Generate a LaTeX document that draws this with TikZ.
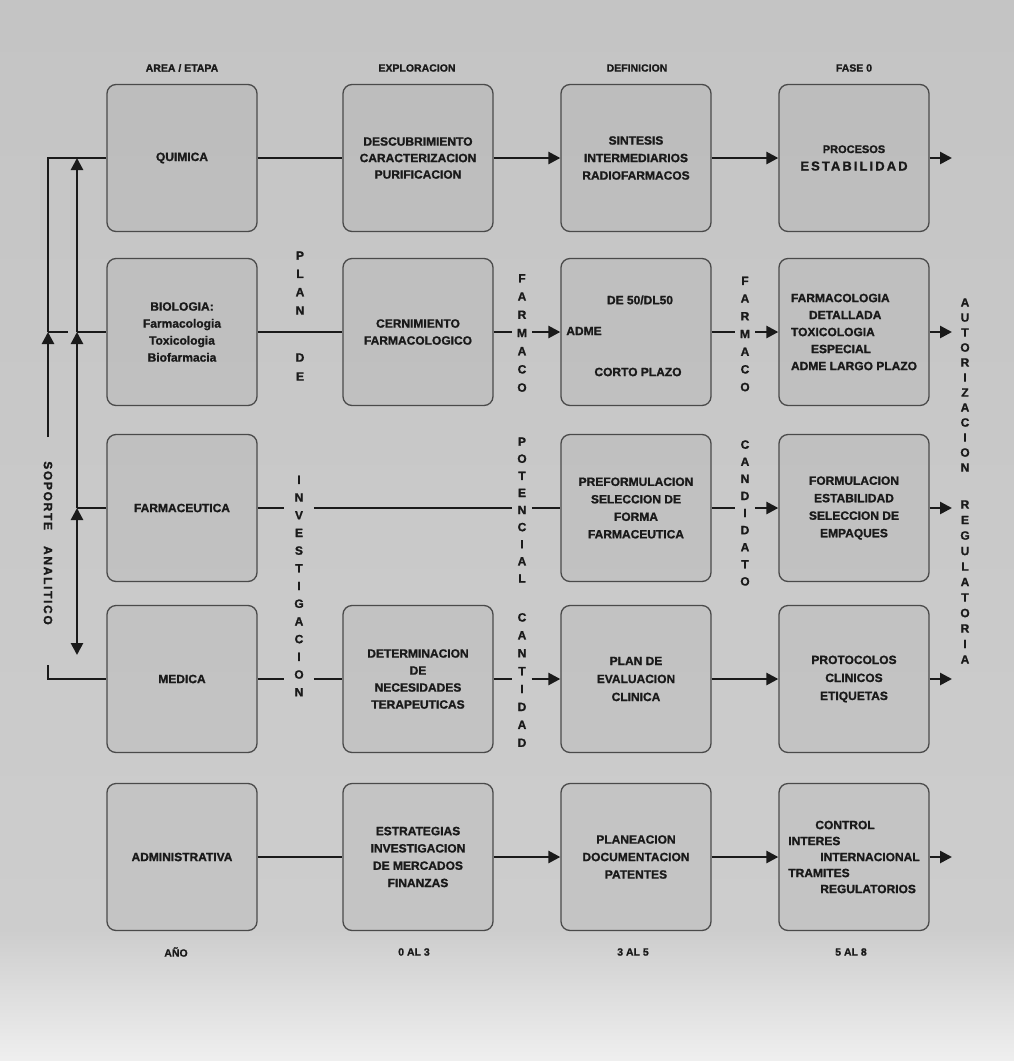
\documentclass[tikz,border=0pt]{standalone}
\usepackage{fontspec}
\setmainfont{Liberation Sans}[BoldFeatures={FakeBold=1.2}]
\newfontfamily\sapfont{Liberation Sans}[LetterSpace=14, BoldFeatures={FakeBold=1.2}]
\usetikzlibrary{arrows.meta}
\definecolor{bgtop}{HTML}{C4C4C4}
\definecolor{bgmid}{HTML}{CDCDCD}
\definecolor{bgbot}{HTML}{EFEFEF}
\definecolor{boxc}{HTML}{4A4A4A}
\definecolor{ink}{HTML}{1A1A1A}
\begin{document}
\begin{tikzpicture}[x=1pt,y=-1pt,
  box/.style={draw=boxc, line width=1.3pt, rounded corners=9pt,
    minimum width=150pt, minimum height=147pt, fill=black, fill opacity=0.04,
    draw opacity=1, text opacity=1, align=center, inner sep=2pt,
    font=\fontsize{12}{17.5}\selectfont\bfseries, text=ink},
  tight/.style={font=\fontsize{12}{16.5}\selectfont\bfseries},
  inbox/.style={font=\fontsize{12}{14}\selectfont\bfseries, text=ink, inner sep=1pt},
  conn/.style={draw=ink, line width=2.6pt},
  arr/.style={-{Triangle[length=12pt,width=12pt]}},
  dtri/.style={{Triangle[length=12pt,width=12pt]}-{Triangle[length=12pt,width=12pt]}},
  vword/.style={font=\fontsize{12}{17.7}\selectfont\bfseries, align=center,
    inner xsep=5pt, inner ysep=0pt, text=ink},
  hdr/.style={font=\fontsize{10.5}{12}\selectfont\bfseries, text=ink}]

% background
\shade[top color=bgtop, bottom color=bgmid] (0,0) rectangle (1014,930);
\shade[top color=bgmid, bottom color=bgbot] (0,930) rectangle (1014,1061);
\useasboundingbox (0,0) rectangle (1014,1061);

% headers
\node[hdr] (h1) at (182,68) {AREA / ETAPA};
\node[hdr] (h2) at (417,68) {EXPLORACION};
\node[hdr] (h3) at (637,68) {DEFINICION};
\node[hdr] (h4) at (854,68) {FASE 0};

% row 1
\node[box] (b11) at (182,158) {QUIMICA};
\node[box, tight] (b12) at (418,158) {DESCUBRIMIENTO\\CARACTERIZACION\\PURIFICACION};
\node[box] (b13) at (636,158) {SINTESIS\\INTERMEDIARIOS\\RADIOFARMACOS};
\node[box] (b14) at (854,158) {{\fontsize{11}{12}\selectfont PROCESOS}\\{\fontsize{13}{14}\selectfont\bfseries\addfontfeature{LetterSpace=16}ESTABILIDAD}};

% row 2
\node[box, font=\fontsize{12}{17}\selectfont\bfseries] (b21) at (182,332) {BIOLOGIA:\\Farmacologia\\Toxicologia\\Biofarmacia};
\node[box, font=\fontsize{12}{17}\selectfont\bfseries] (b22) at (418,332) {CERNIMIENTO\\FARMACOLOGICO};
\node[box] (b23) at (636,332) {};
\node[inbox] (t23a) at (640,300) {DE 50/DL50};
\node[inbox] (t23b) at (584,331) {ADME};
\node[inbox] (t23c) at (638,372) {CORTO PLAZO};
\node[box, align=left, font=\fontsize{12}{17}\selectfont\bfseries] (b24) at (854,332)
  {FARMACOLOGIA\\\hspace*{18pt}DETALLADA\\TOXICOLOGIA\\\hspace*{20pt}ESPECIAL\\ADME LARGO PLAZO};

% row 3
\node[box] (b31) at (182,508) {FARMACEUTICA};
\node[box] (b33) at (636,508) {PREFORMULACION\\SELECCION DE\\FORMA\\FARMACEUTICA};
\node[box] (b34) at (854,508) {FORMULACION\\ESTABILIDAD\\SELECCION DE\\EMPAQUES};

% row 4
\node[box] (b41) at (182,679) {MEDICA};
\node[box, font=\fontsize{12}{17}\selectfont\bfseries] (b42) at (418,679) {DETERMINACION\\DE\\NECESIDADES\\TERAPEUTICAS};
\node[box, font=\fontsize{12}{18}\selectfont\bfseries] (b43) at (636,679) {PLAN DE\\EVALUACION\\CLINICA};
\node[box, font=\fontsize{12}{18}\selectfont\bfseries] (b44) at (854,679) {PROTOCOLOS\\CLINICOS\\ETIQUETAS};

% row 5
\node[box, font=\fontsize{12}{17.3}\selectfont\bfseries] (b51) at (182,857) {ADMINISTRATIVA};
\node[box, font=\fontsize{12}{17.3}\selectfont\bfseries] (b52) at (418,857) {ESTRATEGIAS\\INVESTIGACION\\DE MERCADOS\\FINANZAS};
\node[box] (b53) at (636,857) {PLANEACION\\DOCUMENTACION\\PATENTES};
\node[box, align=left, font=\fontsize{12}{16}\selectfont\bfseries] (b54) at (854,857)
  {\hspace*{27pt}CONTROL\\INTERES\\\hspace*{32pt}INTERNACIONAL\\TRAMITES\\\hspace*{32pt}REGULATORIOS};

% footer
\node[hdr] (g1) at (176,952) {AÑO};
\node[hdr] (g2) at (414,952) {0 AL 3};
\node[hdr] (g3) at (633,952) {3 AL 5};
\node[hdr] (g4) at (851,952) {5 AL 8};

% vertical words
\node[vword, font=\fontsize{12}{18.3}\selectfont\bfseries] (vplan) at (300,283) {P\\L\\A\\N};
\node[vword, font=\fontsize{12}{19}\selectfont\bfseries] (vde) at (300,367) {D\\E};
\node[vword, inner xsep=10pt] (vinv) at (299,586) {I\\N\\V\\E\\S\\T\\I\\G\\A\\C\\I\\O\\N};
\node[vword, font=\fontsize{12}{18.2}\selectfont\bfseries] (vfar1) at (522,333) {F\\A\\R\\M\\A\\C\\O};
\node[vword, font=\fontsize{12}{17.1}\selectfont\bfseries] (vpot) at (522,510) {P\\O\\T\\E\\N\\C\\I\\A\\L};
\node[vword, font=\fontsize{12}{17.9}\selectfont\bfseries] (vcant) at (522,680) {C\\A\\N\\T\\I\\D\\A\\D};
\node[vword] (vfar2) at (745,334) {F\\A\\R\\M\\A\\C\\O};
\node[vword, font=\fontsize{12}{17.1}\selectfont\bfseries] (vcand) at (745,513) {C\\A\\N\\D\\I\\D\\A\\T\\O};
\node[vword, font=\fontsize{12}{15}\selectfont\bfseries] (vaut) at (965,385) {A\\U\\T\\O\\R\\I\\Z\\A\\C\\I\\O\\N};
\node[vword, font=\fontsize{12}{15.5}\selectfont\bfseries] (vreg) at (965,582) {R\\E\\G\\U\\L\\A\\T\\O\\R\\I\\A};

\node[font={\sapfont\fontsize{12}{14}\selectfont\bfseries}, text=ink, rotate=-90] (sop) at (48,543) {SOPORTE\hspace{16pt}ANALITICO};

% helper coordinates
\coordinate (ox) at (952,0);
\coordinate (xo) at (48,0);
\coordinate (xi) at (77,0);
\coordinate (sa1) at (48,437);
\coordinate (sa2) at (48,665);
\coordinate (il4) at (77,655);
\coordinate (stub) at (68,332);

% row 1 connectors
\draw[conn] (b11) -- (b12);
\draw[conn,arr] (b12) -- (b13);
\draw[conn,arr] (b13) -- (b14);
\draw[conn,arr] (b14) -- (b14 -| ox);

% row 2
\draw[conn] (b21) -- (b22);
\draw[conn] (b22) -- (b22 -| vfar1.west);
\draw[conn,arr] (b22 -| vfar1.east) -- (b23);
\draw[conn] (b23) -- (b23 -| vfar2.west);
\draw[conn,arr] (b23 -| vfar2.east) -- (b24);
\draw[conn,arr] (b24) -- (b24 -| ox);

% row 3
\draw[conn] (b31) -- (b31 -| vinv.west);
\draw[conn] (b31 -| vinv.east) -- (b31 -| vpot.west);
\draw[conn] (b31 -| vpot.east) -- (b33);
\draw[conn] (b33) -- (b33 -| vcand.west);
\draw[conn,arr] (b33 -| vcand.east) -- (b34);
\draw[conn,arr] (b34) -- (b34 -| ox);

% row 4
\draw[conn] (b41) -- (b41 -| vinv.west);
\draw[conn] (b41 -| vinv.east) -- (b42);
\draw[conn] (b42) -- (b42 -| vcant.west);
\draw[conn,arr] (b42 -| vcant.east) -- (b43);
\draw[conn,arr] (b43) -- (b44);
\draw[conn,arr] (b44) -- (b44 -| ox);

% row 5
\draw[conn] (b51) -- (b52);
\draw[conn,arr] (b52) -- (b53);
\draw[conn,arr] (b53) -- (b54);
\draw[conn,arr] (b54) -- (b54 -| ox);

% left support structure
\draw[conn,arr] (sa1) -- (b21.west -| xo);
\draw[conn] (b21.west -| xo) -- (b11.west -| xo) -- (b11.west);
\draw[conn] (b21.west -| xo) -- (stub);
\draw[conn] (b21.west -| xi) -- (b21.west);
\draw[conn] (b31.west -| xi) -- (b31.west);
\draw[conn] (sa2) -- (b41.west -| xo) -- (b41.west);
\draw[conn,dtri] (il4) -- (b31.west -| xi);
\draw[conn,arr] (b31.west -| xi) -- (b21.west -| xi);
\draw[conn,arr] (b21.west -| xi) -- (b11.west -| xi);
\end{tikzpicture}
\end{document}
